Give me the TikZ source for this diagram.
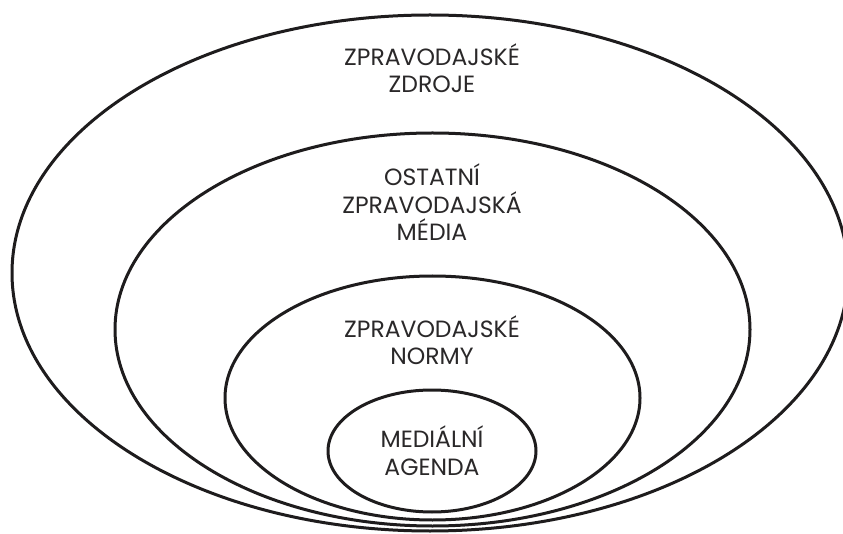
\documentclass[tikz,border=0pt]{standalone}
\usepackage{fontspec}
\setmainfont{Poppins}
\definecolor{ink}{HTML}{1E1C1D}
\definecolor{txt}{HTML}{2A2829}
\begin{document}
\begin{tikzpicture}[x=1pt,y=-1pt,
  ring/.style={draw=ink,line width=3pt},
  lbl/.style={text=txt,align=center,anchor=base,inner sep=0pt,font=\fontsize{23.5}{27.5}\selectfont}]
\useasboundingbox (0,0) rectangle (843,534);
\fill[white] (0,0) rectangle (843,534);
\draw[ring] (430,273) ellipse [x radius=418, y radius=258];
\draw[ring] (432.5,329.5) ellipse [x radius=317.5, y radius=196.5];
\draw[ring] (432.5,398) ellipse [x radius=207.5, y radius=122];
\draw[ring] (432,451) ellipse [x radius=104, y radius=61];
\node[lbl] (zdroje) at (432,93) {ZPRAVODAJSKÉ\\ZDROJE};
\node[lbl] (media) at (432,241) {OSTATNÍ\\ZPRAVODAJSKÁ\\MÉDIA};
\node[lbl] (normy) at (432,365) {ZPRAVODAJSKÉ\\NORMY};
\node[lbl] (agenda) at (432,475) {MEDIÁLNÍ\\AGENDA};
\end{tikzpicture}
\end{document}
